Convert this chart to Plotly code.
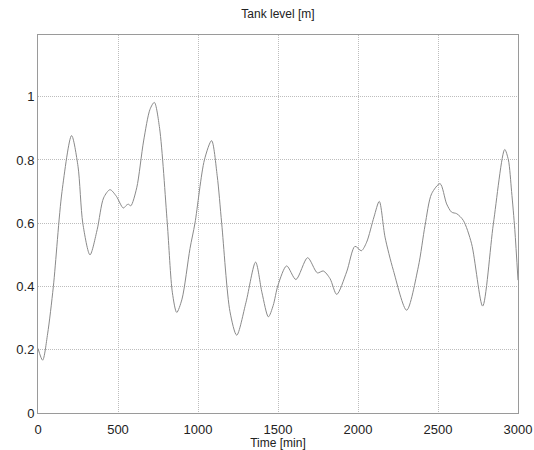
import plotly.graph_objects as go

time_min = [0, 29, 60, 96, 150, 210, 250, 280, 325, 370, 410, 450, 490, 533, 555, 565, 580, 617,
            660, 700, 727, 760, 808, 840, 867, 900, 950, 981, 1040, 1085, 1120, 1148, 1200, 1242,
            1300, 1360, 1400, 1440, 1470, 1500, 1554, 1612, 1685, 1746, 1783, 1825, 1867, 1929,
            1981, 2021, 2054, 2100, 2133, 2169, 2221, 2304, 2377, 2419, 2460, 2513, 2554, 2585,
            2617, 2658, 2710, 2779, 2846, 2917, 2940, 2960, 2980, 3000]
tank_level = [0.204, 0.167, 0.25, 0.40, 0.70, 0.877, 0.78, 0.60, 0.50, 0.58, 0.68, 0.706, 0.685,
              0.648, 0.658, 0.660, 0.655, 0.712, 0.86, 0.96, 0.982, 0.90, 0.60, 0.38, 0.318, 0.36,
              0.52, 0.60, 0.80, 0.861, 0.75, 0.60, 0.32, 0.246, 0.35, 0.477, 0.38, 0.304, 0.34,
              0.404, 0.465, 0.422, 0.491, 0.443, 0.449, 0.425, 0.375, 0.446, 0.527, 0.513, 0.54,
              0.62, 0.669, 0.556, 0.451, 0.325, 0.462, 0.593, 0.693, 0.725, 0.661, 0.635, 0.630,
              0.609, 0.535, 0.338, 0.598, 0.833, 0.80, 0.70, 0.58, 0.42]

x_ticks = [0, 500, 1000, 1500, 2000, 2500, 3000]
y_ticks = [0, 0.2, 0.4, 0.6, 0.8, 1]
y_tick_text = ["0", "0.2", "0.4", "0.6", "0.8", "1"]

fig = go.Figure()
fig.add_trace(go.Scatter(x=time_min, y=tank_level, mode="lines",
                         line=dict(color="#8a8a8a", width=1, shape="spline", smoothing=0.8),
                         showlegend=False, hoverinfo="skip"))

axis_common = dict(showline=True, linecolor="#9a9a9a", linewidth=1, mirror=True,
                   showgrid=True, gridcolor="#bdbdbd", griddash="1px,1px", gridwidth=1,
                   zeroline=False, ticks="", automargin=False,
                   tickfont=dict(size=13, color="#222"))

fig.update_layout(
    width=534, height=450,
    margin=dict(l=38, r=16, t=35, b=37),
    paper_bgcolor="white", plot_bgcolor="white",
    font=dict(family="Liberation Sans, Arial, sans-serif", color="#222"),
    title=dict(text="Tank level [m]", x=278/534, xanchor="center", y=1 - 14/450, yanchor="middle",
               font=dict(size=12, color="#222")),
    xaxis=dict(range=[0, 3000], tickvals=x_ticks, ticklabelstandoff=4,
               title=dict(text="Time [min]", font=dict(size=12), standoff=4), **axis_common),
    yaxis=dict(range=[0, 1.195], tickvals=y_ticks, ticktext=y_tick_text, **axis_common),
)

fig.write_html("out.html")
